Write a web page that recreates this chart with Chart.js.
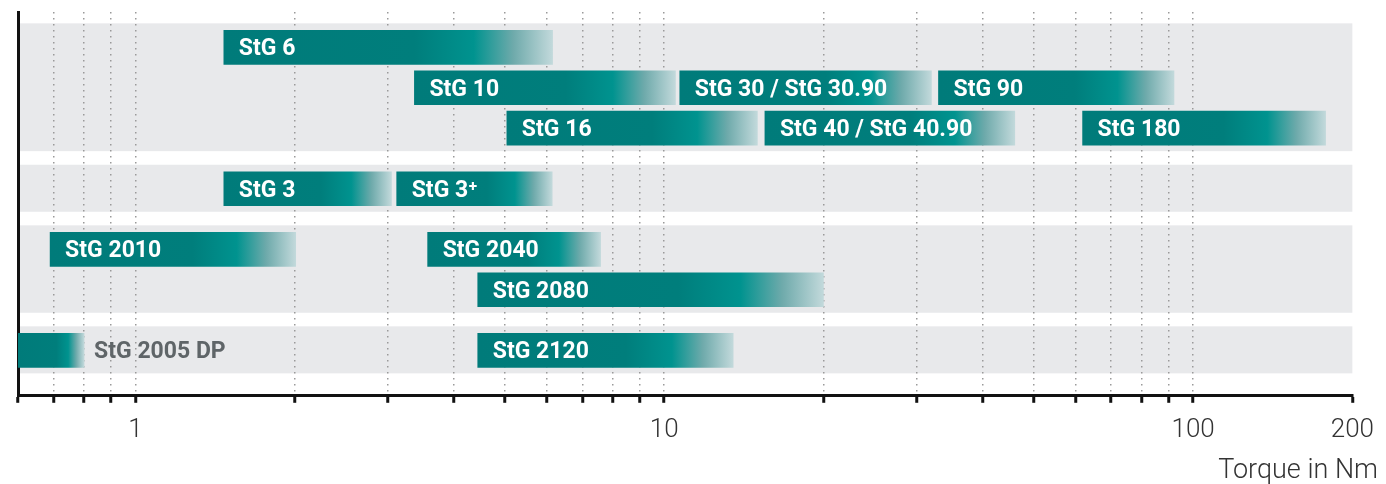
<!DOCTYPE html>
<html>
<head>
<meta charset="utf-8">
<script src="https://cdn.jsdelivr.net/npm/chart.js@4.4.1/dist/chart.umd.min.js"></script>
<style>
  html, body { margin: 0; padding: 0; background: #fff; }
  #wrap { width: 1386px; height: 484px; }
</style>
</head>
<body>
<div id="wrap"><canvas id="chart"></canvas></div>
<script>
const models = ['StG 6', 'StG 10', 'StG 30 / StG 30.90', 'StG 90', 'StG 16', 'StG 40 / StG 40.90', 'StG 180',
    'StG 3', 'StG 3⁺', 'StG 2010', 'StG 2040', 'StG 2080', 'StG 2005 DP', 'StG 2120'];
const modelRow = ['A1', 'A2', 'A2', 'A2', 'A3', 'A3', 'A3', 'B1', 'B1', 'C1', 'C1', 'C2', 'D1', 'D1'];
const torqueMin = [1.47, 3.37, 10.7, 33, 5.04, 15.5, 61.8, 1.47, 3.12, 0.69, 3.57, 4.44, 0.6, 4.44];
const torqueMax = [6.15, 10.5, 32, 92, 15, 46, 178, 3.05, 6.14, 2.01, 7.58, 20, 0.8, 13.5];
const rowGroups = [['A1', 'A2', 'A3'], ['B1'], ['C1', 'C2'], ['D1']];
const tickValues = [0.6, 0.7, 0.8, 0.9, 1, 2, 3, 4, 5, 6, 7, 8, 9, 10, 20, 30, 40, 50, 60, 70, 80, 90, 100, 200];
const labeledTicks = [1, 10, 100, 200];
const axisTitle = 'Torque in Nm';

// y slots: rows 4 slots apart inside a group, 6 between groups
const slots = ['', '', ''];
rowGroups.forEach((g, gi) => {
    if (gi > 0) slots.push('', '', '', '', '');
    g.forEach((r, ri) => {
        if (ri > 0) slots.push('', '', '');
        slots.push(r);
    });
});
slots.push('', '', '', '');

function barGradient(context) {
    const chart = context.chart;
    const { ctx, chartArea, scales } = chart;
    if (!chartArea || context.type !== 'data') return '#007b7a';
    const i = context.dataIndex;
    const x0 = scales.x.getPixelForValue(torqueMin[i]);
    const x1 = scales.x.getPixelForValue(torqueMax[i]);
    const g = ctx.createLinearGradient(x0, 0, x1, 0);
    g.addColorStop(0, '#007b7a');
    g.addColorStop(0.58, '#007e7c');
    g.addColorStop(0.76, '#00938f');
    g.addColorStop(0.88, '#6eaaab');
    g.addColorStop(1, '#c2d9db');
    return g;
}

const bands = {
    id: 'bands',
    beforeDraw(chart) {
        const { ctx, chartArea, scales: { y } } = chart;
        ctx.save();
        ctx.fillStyle = '#e8e9eb';
        rowGroups.forEach(g => {
            const top = y.getPixelForValue(slots.indexOf(g[0])) - 24;
            const bottom = y.getPixelForValue(slots.indexOf(g[g.length - 1])) + 23;
            ctx.fillRect(chartArea.left, top, chartArea.right - chartArea.left, bottom - top);
        });
        ctx.restore();
    }
};

const barLabels = {
    id: 'barLabels',
    afterDatasetsDraw(chart) {
        const { ctx } = chart;
        const meta = chart.getDatasetMeta(0);
        ctx.save();
        ctx.font = 'bold 23px Roboto';
        ctx.textBaseline = 'alphabetic';
        meta.data.forEach((bar, i) => {
            const left = Math.min(bar.x, bar.base);
            const right = Math.max(bar.x, bar.base);
            const w = ctx.measureText(models[i]).width;
            if (w + 16 < right - left) {
                ctx.fillStyle = '#ffffff';
                ctx.fillText(models[i], left + 15, bar.y + 8);
            } else {
                ctx.fillStyle = '#5f6568';
                ctx.fillText(models[i], right + 10, bar.y + 8);
            }
        });
        ctx.restore();
    }
};

const titleText = {
    id: 'titleText',
    afterDraw(chart) {
        const { ctx } = chart;
        ctx.save();
        ctx.font = '300 27px Roboto';
        ctx.fillStyle = '#333';
        ctx.textAlign = 'right';
        ctx.textBaseline = 'alphabetic';
        ctx.fillText(axisTitle, chart.width - 8, 478);
        ctx.restore();
    }
};

new Chart(document.getElementById('chart'), {
    type: 'bar',
    data: {
        labels: slots,
        datasets: [{
            data: modelRow.map((r, i) => ({ x: [torqueMin[i], torqueMax[i]], y: r })),
            backgroundColor: barGradient,
            borderWidth: 0,
            barThickness: 34
        }]
    },
    options: {
        indexAxis: 'y',
        responsive: true,
        maintainAspectRatio: false,
        animation: false,
        layout: { padding: { left: 18, right: 27, top: 12, bottom: 26 } },
        plugins: { legend: { display: false }, tooltip: { enabled: false } },
        scales: {
            x: {
                type: 'logarithmic',
                min: 0.6,
                max: 200,
                afterBuildTicks: axis => {
                    axis.ticks = tickValues.map(v => ({ value: v, major: labeledTicks.includes(v) }));
                },
                ticks: {
                    autoSkip: false,
                    maxRotation: 0,
                    padding: 12,
                    color: '#333',
                    font: { family: 'Roboto', size: 26, weight: 300 },
                    callback: v => labeledTicks.includes(v) ? String(v) : ''
                },
                grid: {
                    color: c => (c.tick && (c.tick.value === 0.6 || c.tick.value === 200)) ? 'rgba(0,0,0,0)' : '#9a9a9a',
                    lineWidth: 1.5,
                    drawTicks: true,
                    tickLength: 7,
                    tickColor: '#111',
                    tickWidth: 3,
                    tickBorderDash: []
                },
                border: { display: true, color: '#111', width: 3, dash: [1.5, 4.5] }
            },
            y: {
                type: 'category',
                labels: slots,
                ticks: { display: false },
                grid: { display: false, drawTicks: false, tickLength: 0 },
                border: { display: true, color: '#111', width: 3 }
            }
        }
    },
    plugins: [bands, barLabels, titleText]
});
</script>
</body>
</html>
